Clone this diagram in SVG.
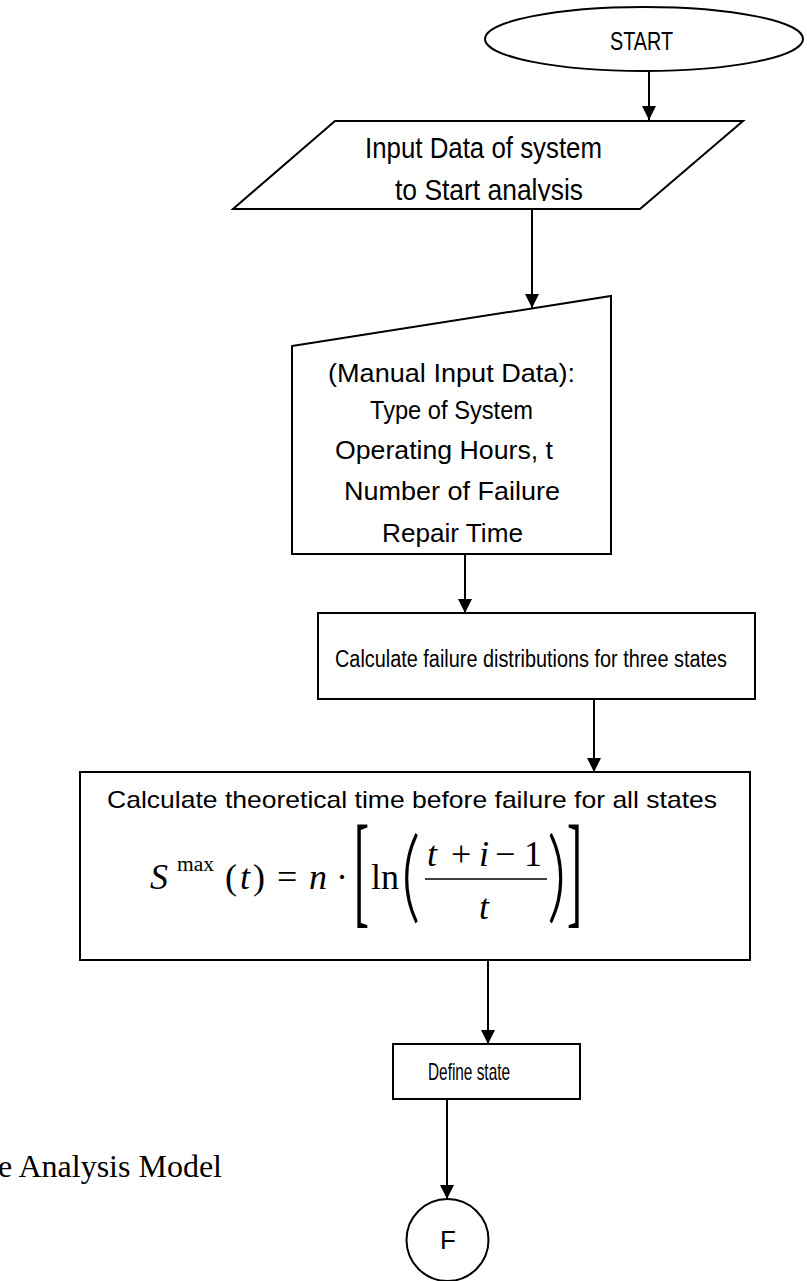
<svg xmlns="http://www.w3.org/2000/svg" width="807" height="1281" viewBox="0 0 807 1281">
<style>
.shape{fill:#fff;stroke:#000;stroke-width:2}
.conn{fill:none;stroke:#000;stroke-width:2}
.t{font-family:"Liberation Sans Narrow","Liberation Sans",Arial,sans-serif;fill:#000;text-anchor:middle}
.m{font-family:"Liberation Serif","Times New Roman",serif;fill:#000}
.mi{font-family:"Liberation Serif","Times New Roman",serif;font-style:italic;fill:#000}
.p{font-family:Lato,"Liberation Sans",sans-serif;font-weight:300;fill:#000}
</style>
<defs>
<marker id="arr" markerUnits="userSpaceOnUse" markerWidth="14" markerHeight="14" refX="14" refY="7" orient="auto">
<path d="M0,0 L14,7 L0,14 z" fill="#000"/>
</marker>
<clipPath id="clipIn"><rect x="233" y="121" width="510" height="80"/></clipPath>
</defs>
<g id="connectors">
<line class="conn" x1="649" y1="71" x2="649" y2="120" marker-end="url(#arr)"/>
<line class="conn" x1="532" y1="209" x2="532" y2="308" marker-end="url(#arr)"/>
<line class="conn" x1="465" y1="554" x2="465" y2="613" marker-end="url(#arr)"/>
<line class="conn" x1="594" y1="699" x2="594" y2="772" marker-end="url(#arr)"/>
<line class="conn" x1="488" y1="960" x2="488" y2="1044" marker-end="url(#arr)"/>
<line class="conn" x1="447" y1="1099" x2="447" y2="1199" marker-end="url(#arr)"/>
</g>
<g id="start">
<ellipse class="shape" cx="644" cy="39" rx="159" ry="32"/>
<text class="t" x="641.5" y="50" font-size="25" textLength="63" lengthAdjust="spacingAndGlyphs">START</text>
</g>
<g id="input">
<polygon class="shape" points="335,121 743,121 640,209 233,209"/>
<text class="t" x="483.5" y="158" font-size="30" textLength="237" lengthAdjust="spacingAndGlyphs">Input Data of system</text>
<text class="t" x="489" y="200" font-size="30" textLength="188" lengthAdjust="spacingAndGlyphs" clip-path="url(#clipIn)">to Start analysis</text>
</g>
<g id="manual">
<polygon class="shape" points="292,346 611,296 611,554 292,554"/>
<text class="t" x="451.5" y="382" font-size="26" textLength="247" lengthAdjust="spacingAndGlyphs">(Manual Input Data):</text>
<text class="t" x="451.5" y="419" font-size="25" textLength="163" lengthAdjust="spacingAndGlyphs">Type of System</text>
<text class="t" x="444" y="459" font-size="26" textLength="218" lengthAdjust="spacingAndGlyphs">Operating Hours, t</text>
<text class="t" x="452" y="500" font-size="26" textLength="216" lengthAdjust="spacingAndGlyphs">Number of Failure</text>
<text class="t" x="452.5" y="542" font-size="26" textLength="141" lengthAdjust="spacingAndGlyphs">Repair Time</text>
</g>
<g id="distributions">
<rect class="shape" x="318" y="613" width="437" height="86"/>
<text class="t" x="531" y="667" font-size="23" textLength="392" lengthAdjust="spacingAndGlyphs">Calculate failure distributions for three states</text>
</g>
<g id="theoretical">
<rect class="shape" x="80" y="772" width="670" height="188"/>
<text class="t" x="412" y="808" font-size="24" textLength="610" lengthAdjust="spacingAndGlyphs">Calculate theoretical time before failure for all states</text>
<text class="mi" x="150" y="889" font-size="36">S</text>
<text class="m" x="177" y="871" font-size="20" textLength="37" lengthAdjust="spacingAndGlyphs">max</text>
<text class="m" x="225" y="889" font-size="36">(</text>
<text class="mi" x="240" y="889" font-size="36">t</text>
<text class="m" x="253" y="889" font-size="36">)</text>
<text class="m" x="277" y="889" font-size="36">=</text>
<text class="mi" x="309" y="889" font-size="36">n</text>
<text class="m" x="342" y="889" font-size="36" text-anchor="middle">·</text>
<text class="m" font-size="125" transform="translate(354,911) scale(0.36,1)">[</text>
<text class="m" x="371" y="889" font-size="36">ln</text>
<text class="p" font-size="100" transform="translate(401,910) scale(0.75,1)">(</text>
<text class="mi" x="427" y="866" font-size="36">t</text>
<text class="m" x="451" y="866" font-size="36">+</text>
<text class="mi" x="479" y="866" font-size="36">i</text>
<text class="m" x="495" y="866" font-size="36">−</text>
<text class="m" x="524" y="866" font-size="36">1</text>
<line x1="425" y1="879" x2="547" y2="879" stroke="#000" stroke-width="1.5"/>
<text class="mi" x="479" y="919" font-size="36">t</text>
<text class="p" font-size="100" transform="translate(547,910) scale(0.75,1)">)</text>
<text class="m" font-size="125" transform="translate(567,911) scale(0.36,1)">]</text>
</g>
<g id="define">
<rect class="shape" x="393" y="1044" width="187" height="55"/>
<text class="t" x="469" y="1080" font-size="24" textLength="82" lengthAdjust="spacingAndGlyphs">Define state</text>
</g>
<g id="connectorF">
<circle class="shape" cx="447.5" cy="1240" r="41"/>
<text class="t" x="448" y="1249" font-size="26">F</text>
</g>
<g id="caption">
<text class="m" x="-2" y="1177" font-size="31" textLength="224" lengthAdjust="spacingAndGlyphs">e Analysis Model</text>
</g>
</svg>
